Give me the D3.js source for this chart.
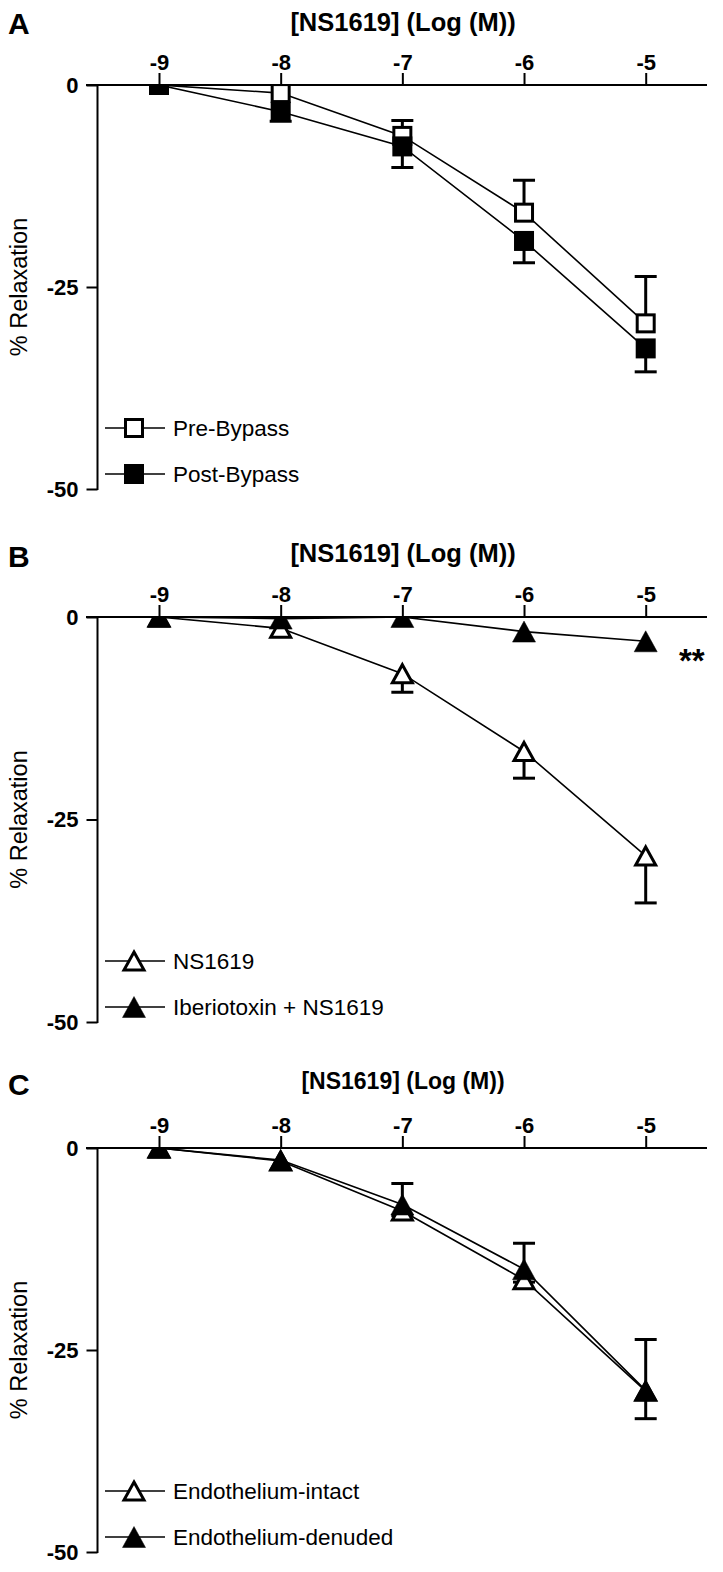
<!DOCTYPE html>
<html><head><meta charset="utf-8">
<script src="https://cdn.jsdelivr.net/npm/d3@7"></script>
<style>
html,body{margin:0;padding:0;background:#fff;}
svg{display:block;}
text{font-family:"Liberation Sans",Arial,sans-serif;fill:#000;}
</style></head><body>
<svg id="chart" width="723" height="1572"></svg>
<script>
// ---------- data ----------
const logConc = [-9, -8, -7, -6, -5];
const xTicks = [-9, -8, -7, -6, -5];
const yTicks = [0, -25, -50];
const xTitle = "[NS1619] (Log (M))";
const yTitle = "% Relaxation";

// Panel A
const preBypass      = [0, -1.0, -6.3, -15.8, -29.5];
const preBypassErr   = [0, 0, 1.9, 4.0, 5.8];        // upward
const postBypass     = [0, -3.3, -7.6, -19.3, -32.6];
const postBypassErr  = [0, 1.2, 2.6, 2.7, 2.9];      // downward

// Panel B
const ns1619         = [0, -1.4, -7.0, -16.6, -29.5];
const ns1619Err      = [0, 0, 2.3, 3.3, 5.8];        // downward
const iberiotoxin    = [0, -0.2, 0, -1.8, -3.0];
const iberiotoxinErr = [0, 0, 0, 0, 0];

// Panel C
const endoIntact     = [0, -1.6, -7.8, -16.3, -30.1];
const endoIntactErr  = [0, 0, 0.6, 0.3, 3.4];        // downward
const endoDenuded    = [0, -1.5, -7.0, -15.0, -30.0];
const endoDenudedErr = [0, 0, 2.6, 3.2, 6.3];        // upward

const panels = [
  {letter:"A", axisY:85, bottomY:489, titleSize:25.5, titleDy:54, letterY:34, sig:null,
   series:[
     {name:"Pre-Bypass", values:preBypass, err:preBypassErr, dir:1, shape:"square", fill:false},
     {name:"Post-Bypass", values:postBypass, err:postBypassErr, dir:-1, shape:"square", fill:true}
   ]},
  {letter:"B", axisY:617, bottomY:1022, titleSize:25.5, titleDy:55, letterY:567, sig:"**",
   series:[
     {name:"NS1619", values:ns1619, err:ns1619Err, dir:-1, shape:"triangle", fill:false},
     {name:"Iberiotoxin + NS1619", values:iberiotoxin, err:iberiotoxinErr, dir:-1, shape:"triangle", fill:true}
   ]},
  {letter:"C", axisY:1148, bottomY:1552, titleSize:23, titleDy:59, letterY:1095, sig:null,
   series:[
     {name:"Endothelium-intact", values:endoIntact, err:endoIntactErr, dir:-1, shape:"triangle", fill:false},
     {name:"Endothelium-denuded", values:endoDenuded, err:endoDenudedErr, dir:1, shape:"triangle", fill:true}
   ]}
];

// ---------- drawing ----------
const svg = d3.select("#chart");
const x = d3.scaleLinear().domain([-9, -5]).range([159, 645.7]);
const axisLeftX = 97.5, axisStartX = 86, axisEndX = 707;
const MS = 20; // marker size

function drawMarker(g, cx, cy, s){
  const strokeW = 3;
  if(s.shape==="square"){
    const h = MS/2 - (s.fill?0:strokeW/2);
    g.append("rect").attr("x",cx-h).attr("y",cy-h).attr("width",2*h).attr("height",2*h)
      .attr("fill", s.fill?"#000":"#fff").attr("stroke", s.fill?"none":"#000").attr("stroke-width",strokeW);
  } else {
    const w = s.fill?23:20, h = s.fill?21:18;
    g.append("path").attr("d",`M${cx},${cy-h/2}L${cx+w/2},${cy+h/2}L${cx-w/2},${cy+h/2}Z`)
      .attr("fill", s.fill?"#000":"#fff").attr("stroke","#000").attr("stroke-width", s.fill?0.5:strokeW)
      .attr("stroke-linejoin","miter");
  }
}

panels.forEach((p, pi) => {
  const y = d3.scaleLinear().domain([0, -50]).range([p.axisY, p.bottomY]);
  const g = svg.append("g");

  // panel letter
  g.append("text").attr("x", 8).attr("y", p.letterY).attr("font-size", 30)
    .attr("font-weight", "bold").text(p.letter);

  // x title
  g.append("text").attr("x", 403).attr("y", p.axisY - p.titleDy).attr("text-anchor","middle")
    .attr("font-size", p.titleSize).attr("font-weight","bold").text(xTitle);

  // x axis (top)
  const xAxis = d3.axisTop(x).tickValues(xTicks).tickSize(12).tickPadding(3)
    .tickFormat(d => String(d).replace("\u2212","-"));
  const xg = g.append("g").attr("transform", `translate(0,${p.axisY})`).call(xAxis);
  xg.select(".domain").remove();
  xg.selectAll(".tick line").attr("stroke","#000").attr("stroke-width",2);
  xg.selectAll(".tick text").attr("font-size",22).attr("font-weight","bold")
    .attr("font-family","Liberation Sans, Arial, sans-serif").attr("fill","#000");
  g.append("line").attr("x1",axisStartX).attr("x2",axisEndX).attr("y1",p.axisY).attr("y2",p.axisY)
    .attr("stroke","#000").attr("stroke-width",2);

  // y axis
  const yAxis = d3.axisLeft(y).tickValues(yTicks).tickSize(11).tickPadding(8)
    .tickFormat(d => String(d));
  const yg = g.append("g").attr("transform", `translate(${axisLeftX},0)`).call(yAxis);
  yg.select(".domain").remove();
  yg.selectAll(".tick line").attr("stroke","#000").attr("stroke-width",2);
  yg.selectAll(".tick text").attr("font-size",22).attr("font-weight","bold")
    .attr("font-family","Liberation Sans, Arial, sans-serif").attr("fill","#000");
  g.append("line").attr("x1",axisLeftX).attr("x2",axisLeftX).attr("y1",p.axisY).attr("y2",p.bottomY+1)
    .attr("stroke","#000").attr("stroke-width",2);

  // y title
  const yc = (p.axisY + p.bottomY)/2;
  g.append("text").attr("transform",`translate(27,${yc}) rotate(-90)`).attr("text-anchor","middle")
    .attr("font-size",23.5).text(yTitle);

  // clip to plot area (below the top axis)
  const clipId = "clip"+pi;
  svg.append("clipPath").attr("id",clipId).append("rect")
    .attr("x", axisLeftX).attr("y", p.axisY+1).attr("width", 720-axisLeftX).attr("height", p.bottomY - p.axisY + 20);
  const plot = g.append("g").attr("clip-path",`url(#${clipId})`);

  const line = d3.line().x((d,i)=>x(logConc[i])).y(d=>y(d));

  // lines
  p.series.forEach(s => {
    plot.append("path").attr("d", line(s.values)).attr("fill","none")
      .attr("stroke","#000").attr("stroke-width",1.6);
  });
  // error bars & markers, open series first, filled on top
  p.series.forEach(s => {
    const eg = plot.append("g");
    s.values.forEach((v,i) => {
      const e = s.err[i];
      if(e > 0){
        const y2 = y(v + s.dir*e);
        eg.append("line").attr("x1",x(logConc[i])).attr("x2",x(logConc[i]))
          .attr("y1",y(v)).attr("y2",y2).attr("stroke","#000").attr("stroke-width",3);
        eg.append("line").attr("x1",x(logConc[i])-11).attr("x2",x(logConc[i])+11)
          .attr("y1",y2).attr("y2",y2).attr("stroke","#000").attr("stroke-width",3);
      }
    });
    s.values.forEach((v,i) => drawMarker(eg, x(logConc[i]), y(v), s));
  });

  // legend
  p.series.forEach((s, k) => {
    const ly = p.bottomY - 61 + k*46;
    g.append("line").attr("x1",105).attr("x2",165).attr("y1",ly).attr("y2",ly)
      .attr("stroke","#000").attr("stroke-width",1.6);
    drawMarker(g, 134, ly, s);
    g.append("text").attr("x",173).attr("y",ly).attr("dy","0.36em").attr("font-size",22.5).text(s.name);
  });

  if(p.sig){
    g.append("text").attr("x",679).attr("y",p.axisY+55).attr("font-size",33)
      .attr("font-weight","bold").text(p.sig);
  }
});
</script>
</body></html>
